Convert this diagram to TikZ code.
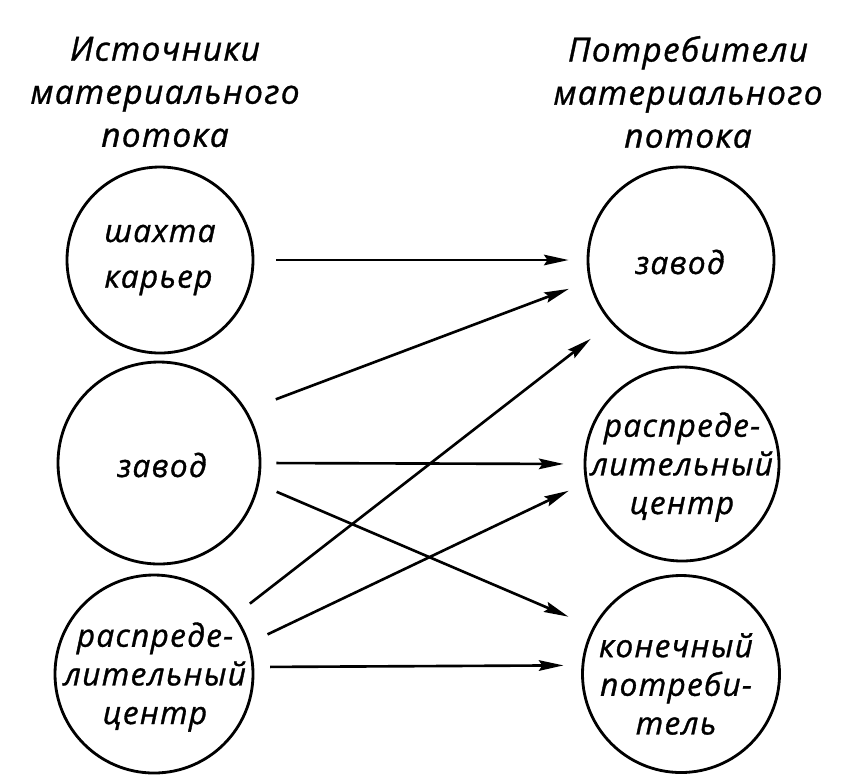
\documentclass[tikz,border=0pt]{standalone}
\usepackage{fontspec}
\setmainfont{Open Sans}[LetterSpace=4, ItalicFeatures={FakeBold=1}]
\usetikzlibrary{arrows.meta}
\begin{document}
\begin{tikzpicture}[
    ring/.style={draw, circle, line width=1.6pt, inner sep=0pt},
    lbl/.style={font=\itshape\fontsize{18}{22}\selectfont, align=center},
    arr/.style={-{Stealth[length=14pt,width=6pt,inset=2pt]}, line width=1.5pt}]
    \useasboundingbox (0,0) rectangle (17.12,-15.66);
    \node[lbl, font=\itshape\fontsize{19}{24.5}\selectfont] (hsrc) at (3.3,-1.84) {Источники\\материального\\потока};
    \node[lbl, font=\itshape\fontsize{19}{24.5}\selectfont] (hdst) at (13.76,-1.84) {Потребители\\материального\\потока};
    \node[ring, minimum size=3.72cm] (s1) at (3.2,-5.2) {};
    \node[ring, minimum size=4.04cm] (s2) at (3.18,-9.26) {};
    \node[ring, minimum size=3.96cm] (s3) at (3.08,-13.48) {};
    \node[ring, minimum size=3.72cm] (t1) at (13.62,-5.2) {};
    \node[ring, minimum size=3.88cm] (t2) at (13.64,-9.28) {};
    \node[ring, minimum size=3.94cm] (t3) at (13.62,-13.48) {};
    \node[lbl, align=left, font=\itshape\fontsize{18}{26}\selectfont] (s1t) at (s1) {шахта\\карьер};
    \node[lbl] (s2t) at (3.24,-9.3) {завод};
    \node[lbl] (s3t) at (3.1,-13.54) {распреде-\\лительный\\центр};
    \node[lbl] (t1t) at (13.6,-5.24) {завод};
    \node[lbl] (t2t) at (13.64,-9.34) {распреде-\\лительный\\центр};
    \node[lbl] (t3t) at (13.52,-13.68) {конечный\\потреби-\\тель};
	\draw[arr, shorten <=0.44cm, shorten >=0.36cm] (s1.0) -- (t1.180);
	\draw[arr, shorten <=0.62cm, shorten >=0.43cm] (s2.31) -- (t1.193);
	\draw[arr, shorten <=0.30cm, shorten >=0.40cm] (s2.0) -- (t2.180);
	\draw[arr, shorten <=0.38cm, shorten >=0.53cm] (s2.-12) -- (t3.152);
	\draw[arr, shorten <=0.37cm, shorten >=0.51cm] (s3.36) -- (t1.222);
	\draw[arr, shorten <=0.40cm, shorten >=0.37cm] (s3.18) -- (t2.191);
	\draw[arr, shorten <=0.32cm, shorten >=0.36cm] (s3.4) -- (t3.175);
\end{tikzpicture}
\end{document}
